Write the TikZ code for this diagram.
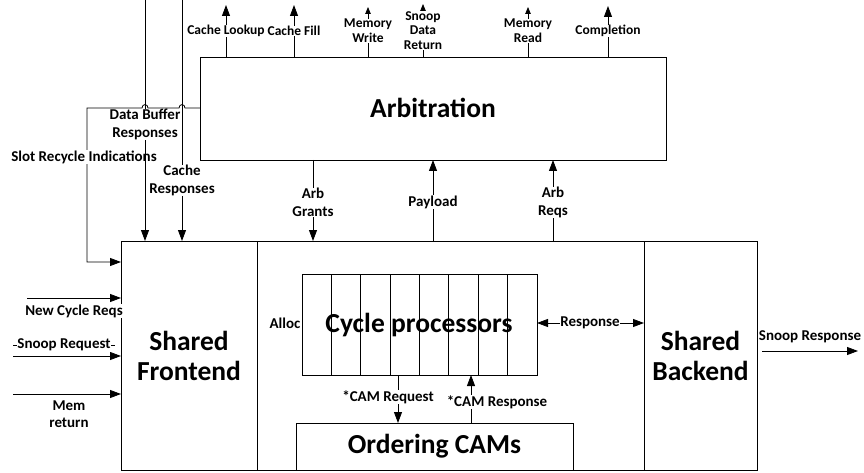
\documentclass[tikz,border=0pt]{standalone}
\usepackage{fontspec}
\setmainfont{Carlito}
\usetikzlibrary{arrows.meta}
\begin{document}
\begin{tikzpicture}[x=1pt,y=-1pt, line width=0.8pt,
 box/.style={draw, inner sep=0pt, outer sep=0pt},
 lab/.style={font=\fontsize{15}{17.5}\selectfont\bfseries, align=center, fill=white, inner sep=0.6pt},
 toplab/.style={lab, font=\fontsize{13.5}{14.8}\selectfont\bfseries},
 big/.style={font=\fontsize{27.5}{30}\selectfont\bfseries, align=center},
 arr/.style={-{Triangle[length=11pt,width=8pt]}},
 sarr/.style={-{Triangle[length=7pt,width=5.5pt]}},
 darr/.style={{Triangle[length=11pt,width=8pt]}-{Triangle[length=11pt,width=8pt]}}]
\useasboundingbox (0,0) rectangle (864,473);
% boxes
\node[box, minimum width=466pt, minimum height=103pt] (arb) at (433,108.5) {};
\node[big] (arbt) at (433,108) {Arbitration};
\node[box, minimum width=636pt, minimum height=229pt] (outer) at (439,355.5) {};
\node[box, big, minimum width=136pt, minimum height=229pt] (fe) at (189,355.5) {Shared\\Frontend};
\node[box, big, minimum width=113pt, minimum height=229pt] (be) at (700.5,355.5) {Shared\\Backend};
\node[box, minimum width=235pt, minimum height=101pt] (cp) at (419.5,324.5) {};
\foreach \i in {1,...,7} \draw ({302+29.375*\i},274) -- ({302+29.375*\i},375);
\node[big] at (419,325) {Cycle processors};
\node[box, big, minimum width=277pt, minimum height=47pt] (cam) at (434.5,446.5) {Ordering CAMs};
% top outputs
\coordinate (cl) at (226,5);
\coordinate (cf) at (294,5);
\coordinate (mw) at (368,7);
\coordinate (sd) at (423,4);
\coordinate (mr) at (528,7);
\coordinate (co) at (608,6);
\draw[arr] (cl |- arb.north) -- (cl);
\draw[arr] (cf |- arb.north) -- (cf);
\draw[sarr] (mw |- arb.north) -- (mw);
\draw[sarr] (sd |- arb.north) -- (sd);
\draw[sarr] (mr |- arb.north) -- (mr);
\draw[arr] (co |- arb.north) -- (co);
\node[toplab] at (226,31) {Cache Lookup};
\node[toplab] at (294,31) {Cache Fill};
\node[toplab] at (368,31) {Memory\\Write};
\node[toplab] at (423,30.5) {Snoop\\Data\\Return};
\node[toplab] at (528,31) {Memory\\Read};
\node[toplab] at (608,31) {Completion};
% arbitration to outer
\coordinate (ag) at (313,0);
\coordinate (pl) at (433,0);
\coordinate (ar) at (553,0);
\draw[arr] (ag |- arb.south) -- (ag |- outer.north);
\draw[arr] (pl |- outer.north) -- (pl |- arb.south);
\draw[arr] (ar |- outer.north) -- (ar |- arb.south);
\node[lab] at (313,202.5) {Arb\\Grants};
\node[lab] at (433,202) {Payload};
\node[lab] at (553,202.5) {Arb\\Reqs};
% slot recycle path
\coordinate (sr) at (87,108);
\coordinate (sr2) at (87,262);
\draw[arr] (arb.west |- sr) -- (185,108) .. controls (185,103.5) and (179,103.5) .. (179,108)
  -- (148,108) .. controls (148,103.5) and (142,103.5) .. (142,108) -- (sr) -- (sr2) -- (fe.west |- sr2);
\node[lab] at (84,157) {Slot Recycle Indications};
% data buffer / cache responses
\coordinate (db) at (145,0);
\coordinate (cr) at (182,0);
\draw[arr] (db) -- (db |- fe.north);
\draw[arr] (cr) -- (cr |- fe.north);
\node[lab] at (145,124.5) {Data Buffer\\Responses};
\node[lab] at (182,180.5) {Cache\\Responses};
% left inputs
\coordinate (nc) at (27,298);
\coordinate (sq) at (13,356);
\coordinate (sql) at (13,345);
\coordinate (mm) at (13,394);
\draw[arr] (nc) -- (fe.west |- nc);
\draw[arr] (sq) -- (fe.west |- sq);
\draw[arr] (mm) -- (fe.west |- mm);
\draw (sql) -- (115,345);
\node[lab] at (74,311) {New Cycle Reqs};
\node[lab] at (64,345) {Snoop Request};
\node[lab] at (69,414) {Mem\\return};
% inner
\node[lab, fill=none] at (285,323) {Alloc};
\draw[darr] (cp.east |- 0,323) -- (be.west |- 0,323);
\node[lab] at (590,323) {Response};
\coordinate (cq) at (398,0);
\coordinate (cs) at (471,0);
\draw[arr] (cq |- cp.south) -- (cq |- cam.north);
\draw[arr] (cs |- cam.north) -- (cs |- cp.south);
\node[lab] at (388,397) {*CAM Request};
\node[lab] at (497,402) {*CAM Response};
% snoop response
\coordinate (s1) at (762,351);
\coordinate (s2) at (858,351);
\draw[arr] (s1) -- (s2);
\node[lab, fill=none] at (810,337) {Snoop Response};
\end{tikzpicture}
\end{document}
